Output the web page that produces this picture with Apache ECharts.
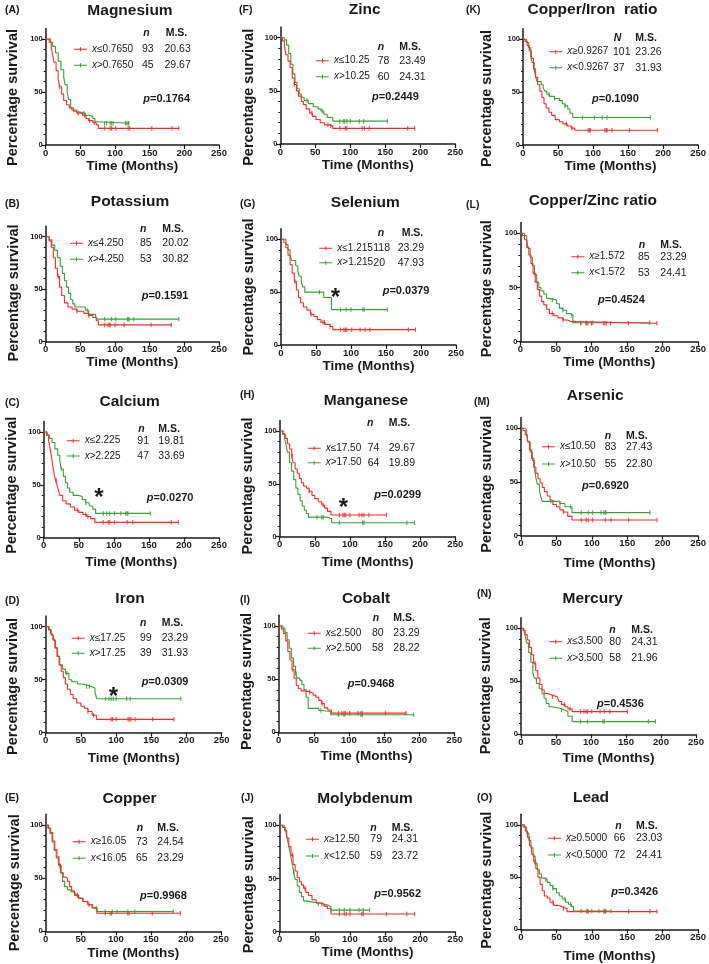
<!DOCTYPE html>
<html><head><meta charset="utf-8">
<script src="https://cdn.jsdelivr.net/npm/echarts@6/dist/echarts.min.js"></script>
<style>html,body{margin:0;padding:0;background:#fff}#c{width:709px;height:964px}</style>
</head><body><div id="c"></div>
<script>
// ---------- data ----------
const titles = ['Magnesium','Potassium','Calcium','Iron','Copper','Zinc','Selenium','Manganese','Cobalt','Molybdenum','Copper/Iron  ratio','Copper/Zinc ratio','Arsenic','Mercury','Lead'];
const letters = ['(A)','(B)','(C)','(D)','(E)','(F)','(G)','(H)','(I)','(J)','(K)','(L)','(M)','(N)','(O)'];
const redLabels = ['≤0.7650','≤4.250','≤2.225','≤17.25','≥16.05','≤10.25','≤1.215','≤17.50','≤2.500','≥12.50','≥0.9267','≥1.572','≤10.50','≤3.500','≥0.5000'];
const greenLabels = ['>0.7650','>4.250','>2.225','>17.25','<16.05','>10.25','>1.215','>17.50','>2.500','<12.50','<0.9267','<1.572','>10.50','>3.500','<0.5000'];
const redN = [93,85,91,99,73,78,118,74,80,79,101,85,83,80,66];
const greenN = [45,53,47,39,65,60,20,64,58,59,37,53,55,58,72];
const redMS = ['20.63','20.02','19.81','23.29','24.54','23.49','23.29','29.67','23.29','24.31','23.26','23.29','27.43','24.31','23.03'];
const greenMS = ['29.67','30.82','33.69','31.93','23.29','24.31','47.93','19.89','28.22','23.72','31.93','24.41','22.80','21.96','24.41'];
const pValues = ['0.1764','0.1591','0.0270','0.0309','0.9968','0.2449','0.0379','0.0299','0.9468','0.9562','0.1090','0.4524','0.6920','0.4536','0.3426'];
const nHeaders = ['n','n','n','n','n','n','n','n','n','n','N','n','n','n','n'];
const xTicks = [0,50,100,150,200,250];
const yTicks = [0,50,100];
const yMinorTicks = [10,20,30,40,60,70,80,90];

const mgRed = [[0,100],[5,97],[8,92],[10,85],[12,78],[15,70],[18,62],[20,55],[23,48],[26,42],[30,38],[34,35],[40,32],[45,30],[53,28],[58,25],[62,23],[68,21],[73,19],[76,15.7],[192,15.7]];
const mgGreen = [[0,100],[7,97],[10,93],[14,87],[18,79],[22,71],[26,64],[28,57],[31,50],[33,43],[36,36],[38,33],[45,31],[50,30],[57,28],[62,27],[68,25],[71,22],[74,20.5],[120,20.5]];
const mgRedCens = [20,47,56,63,70,85,93,95,101,119,121,153,182,192];
const mgGreenCens = [55,85,88,93,95,97,115,117,119,120];

const kRed = [[0,100],[5,96],[8,90],[11,80],[14,70],[17,62],[20,52],[23,44],[27,37],[32,33],[38,31],[45,29],[55,27],[62,25],[68,23],[73,20],[76,16],[182,16]];
const kGreen = [[0,100],[5,97],[9,92],[13,87],[17,80],[21,72],[24,65],[27,58],[30,52],[33,46],[36,40],[39,36],[42,33],[53,33],[57,30],[62,26],[72,24],[74,21.5],[192,21.5]];
const kRedCens = [18,45,62,85,90,92,93,100,113,152,181];
const kGreenCens = [60,85,95,101,118,119,120,127,192];

const caRed = [[0,100],[4,97],[7,92],[9,85],[11,77],[13,68],[15,60],[17,54],[19,50],[21,45],[23,40],[27,35],[32,32],[38,29],[44,26],[50,24],[56,22],[61,20],[67,18],[73,14.5],[192,14.5]];
const caGreen = [[0,100],[5,97],[8,94],[12,90],[16,84],[20,78],[23,72],[25,65],[28,58],[31,52],[34,47],[37,43],[42,40],[50,39],[55,36],[60,33],[65,30],[70,27],[74,23],[152,23]];
const caRedCens = [18,48,60,63,85,92,94,101,119,127,182,192];
const caGreenCens = [25,60,85,90,94,101,110,117,119,120,152];

const feRed = [[0,100],[4,97],[7,93],[10,88],[13,80],[16,72],[19,64],[22,58],[25,52],[28,46],[31,41],[35,36],[39,32],[44,28],[50,25],[55,23],[60,20],[66,16.5],[72,12.6],[182,12.6]];
const feGreen = [[0,100],[5,97],[8,92],[11,87],[14,80],[17,72],[20,64],[24,60],[28,56],[33,50],[37,48],[45,46],[52,45],[58,43.5],[65,42],[70,38.5],[72.5,32],[192,32]];
const feRedCens = [60,68,93,95,100,117,119,121,127,152,182];
const feGreenCens = [30,58,62,85,90,93,96,100,115,120,192];

const cuRed = [[0,100],[4,97],[7,93],[10,85],[13,77],[16,70],[19,62],[22,55],[25,51],[28,50],[31,47],[34,42],[37,38],[41,34],[47,31],[53,28],[60,25],[67,22],[73,17],[192,17]];
const cuGreen = [[0,100],[3,97],[6,92],[9,84],[12,76],[15,69],[18,63],[21,55],[24,47],[27,42],[31,39],[36,37],[42,34],[47,31],[53,28],[60,25],[66,22],[73,18.5],[182,18.5]];
const cuRedCens = [20,45,62,85,92,94,117,119,152,192];
const cuGreenCens = [45,72,85,95,102,117,127,182];

const znRed = [[0,100],[3,97],[6,92],[8,84],[11,78],[14,72],[17,62],[20,56],[23,50],[26,45],[30,40],[33,37],[37,33],[42,29],[46,26],[51,23],[57,20],[63,18],[70,17],[75,14.7],[192,14.7]];
const znGreen = [[0,100],[6,98],[9,93],[12,85],[15,75],[18,66],[21,58],[24,52],[27,47],[30,44],[34,41],[40,38],[47,35],[54,33],[58,31],[62,28],[67,25],[75,21.5],[153,21.5]];
const znRedCens = [20,45,68,72,85,93,95,117,120,127,182,192];
const znGreenCens = [38,60,85,90,92,95,100,113,119,153];

const seRed = [[0,100],[4,97],[7,92],[10,85],[13,76],[16,68],[19,60],[22,52],[25,45],[28,40],[32,36],[37,33],[42,29],[47,27],[52,24],[57,21.5],[63,19.5],[70,17.5],[74,14.5],[192,14.5]];
const seGreen = [[0,100],[7,95],[10,90],[13,85],[15,80],[21,75],[24,70],[26,65],[29,60],[31,55],[34,50],[61,45],[72,33.5],[152,33.5]];
const seRedCens = [20,43,60,62,70,85,90,92,94,101,113,120,127,182,192];
const seGreenCens = [55,85,93,100,117,119,152];

const mnRed = [[0,100],[5,97],[8,93],[11,88],[14,83],[17,76],[19,70],[22,64],[25,60],[28,55],[31,51],[34,48],[38,46],[42,43],[46,39],[50,36],[55,33],[60,30],[64,27],[68,24],[73,20.5],[152,20.5]];
const mnGreen = [[0,100],[4,97],[7,93],[9,87],[11,80],[14,70],[17,62],[20,54],[23,46],[26,40],[29,34],[32,29],[35,25],[38,22],[41,18.5],[68,17],[74,13.2],[192,13.2]];
const mnRedCens = [18,42,62,85,90,92,94,100,113,117,120,127,152];
const mnGreenCens = [53,60,62,85,118,120,181,192];

const coRed = [[0,100],[4,97],[7,93],[10,86],[13,76],[16,68],[19,59],[22,51],[25,44],[28,41],[32,39],[37,38],[45,37],[49,35],[53,33],[57,30],[61,27],[65,23],[70,21],[75,18],[182,18]];
const coGreen = [[0,100],[6,98],[9,94],[12,87],[15,79],[18,70],[21,62],[24,55],[26,51],[30,49],[33,45],[36,40],[39,33],[42,22.5],[57,20.5],[61,19.5],[74,16.5],[192,16.5]];
const coRedCens = [20,44,62,85,90,93,95,101,113,117,119,152,181];
const coGreenCens = [25,60,85,93,117,119,192];

const moRed = [[0,100],[4,98],[7,95],[10,88],[13,80],[16,72],[19,63],[22,57],[25,51],[28,47],[31,44],[34,41],[37,37],[41,34],[46,30],[52,27],[58,26],[63,24],[68,21.5],[73,16.6],[192,16.6]];
const moGreen = [[0,100],[5,98],[8,96],[10,90],[12,83],[14,77],[16,70],[18,63],[20,56],[22,49],[25,43],[28,37],[31,33],[34,29],[38,28],[45,27],[55,26],[62,25],[68,23.5],[73,20.3],[128,20.3]];
const moRedCens = [18,36,60,85,92,95,100,117,119,152,181,192];
const moGreenCens = [7,20,55,73,85,92,100,113,119,128];

const cfRed = [[0,100],[3,98],[6,94],[9,89],[12,82],[15,72],[18,64],[21,57],[24,51],[27,45],[30,39],[33,35],[37,31],[41,28],[46,24],[52,22],[57,20],[63,18],[69,16],[74,14],[192,14]];
const cfGreen = [[0,100],[5,97],[8,92],[11,84],[13,78],[16,71],[18,65],[20,60],[26,57],[29,54],[31,51],[34,48],[38,46],[45,44],[52,42],[56,39],[60,37],[64,34],[67,30],[71,26],[182,26]];
const cfRedCens = [62,70,93,95,96,117,119,120,127,152,192];
const cfGreenCens = [37,45,60,85,102,113,120,182];

const czRed = [[0,100],[3,98],[6,94],[9,87],[12,80],[15,72],[18,63],[21,55],[24,48],[27,42],[30,37],[33,34],[37,30],[41,26],[47,24],[53,22],[60,20],[66,18.5],[72,17],[192,17]];
const czGreen = [[0,100],[6,98],[9,94],[11,86],[14,78],[17,70],[20,62],[23,55],[26,50],[29,47],[33,44],[37,40],[40,38.5],[51,35],[55,31],[60,29],[65,26],[70,24.5],[74,17.5],[182,17.5]];
const czRedCens = [20,45,60,85,93,95,100,117,119,121,127,152,192];
const czGreenCens = [45,60,72,85,92,102,182];

const asRed = [[0,100],[3,98],[6,94],[9,88],[12,80],[15,72],[18,64],[21,58],[24,53],[27,49],[30,45],[33,41],[37,37],[41,33],[45,29],[50,27],[55,24],[60,22],[66,18],[72,14.6],[192,14.6]];
const asGreen = [[0,100],[5,99],[8,93],[10,87],[13,78],[16,70],[19,62],[21,54],[23,48],[26,42],[28,36],[30,32],[55,30],[62,27],[72,21.5],[182,21.5]];
const asRedCens = [60,85,92,95,101,119,127,152,192];
const asGreenCens = [42,55,70,85,95,101,113,117,119,120,182];

const hgRed = [[0,100],[3,98],[6,94],[9,89],[12,82],[15,75],[18,67],[21,60],[24,53],[27,47],[30,42],[33,38.5],[38,37],[44,35.5],[52,34],[54,31],[58,28],[63,26],[67,24],[73,21.4],[152,21.4]];
const hgGreen = [[0,100],[4,98],[6,93],[8,86],[11,77],[14,68],[17,58],[19,53],[22,48],[26,43],[30,38],[33,34],[36,29],[40,26],[44,24.5],[55,23],[62,21.5],[67,17],[73,12],[192,12]];
const hgRedCens = [20,45,62,70,85,90,93,95,101,113,119,127,152];
const hgGreenCens = [58,85,95,117,119,182,192];

const pbRed = [[0,100],[3,98],[6,94],[9,88],[12,80],[15,72],[18,65],[21,58],[24,50],[27,43],[30,37],[33,32],[37,30],[41,26],[46,23],[52,22],[57,21],[60,20],[65,17],[192,17]];
const pbGreen = [[0,100],[5,98],[8,92],[11,85],[14,78],[17,70],[20,63],[23,57],[26,53],[29,49],[33,48],[37,45],[41,42],[45,39],[50,35],[54,32],[58,29],[63,26],[67,24],[71,22],[74,17.5],[127,17.5]];
const pbRedCens = [20,45,60,93,95,117,119,152,182,192];
const pbGreenCens = [20,35,45,62,70,85,93,100,110,117,120,127];

const redCurves = [mgRed,kRed,caRed,feRed,cuRed,znRed,seRed,mnRed,coRed,moRed,cfRed,czRed,asRed,hgRed,pbRed];
const greenCurves = [mgGreen,kGreen,caGreen,feGreen,cuGreen,znGreen,seGreen,mnGreen,coGreen,moGreen,cfGreen,czGreen,asGreen,hgGreen,pbGreen];
const redCens = [mgRedCens,kRedCens,caRedCens,feRedCens,cuRedCens,znRedCens,seRedCens,mnRedCens,coRedCens,moRedCens,cfRedCens,czRedCens,asRedCens,hgRedCens,pbRedCens];
const greenCens = [mgGreenCens,kGreenCens,caGreenCens,feGreenCens,cuGreenCens,znGreenCens,seGreenCens,mnGreenCens,coGreenCens,moGreenCens,cfGreenCens,czGreenCens,asGreenCens,hgGreenCens,pbGreenCens];

// ---------- layout (pixels) ----------
const LAY = [
 {x0:45.7,x1:219,y1:39,y0:145, tx:130,ty:10.5, lx:5,ly:10, gx:74,gy:49.3,gap:16, nx:142,mx:164.5, hnx:143.3,hmx:165.7,hy:33.3, px:143.3,py:98.7, xg:13.7,yg:24.9,ys:10.8},
 {x0:45.7,x1:219,y1:236.7,y0:341.7, tx:130,ty:202, lx:5,ly:204, gx:70,gy:243.3,gap:16, nx:140,mx:162.3, hnx:140,hmx:162.3,hy:229.3, px:141.7,py:296, xg:10.6,yg:24.2,ys:9},
 {x0:43.7,x1:219,y1:432,y0:537.7, tx:129.7,ty:402, lx:5,ly:402.7, gx:66.7,gy:440.7,gap:15.3, nx:137.3,mx:158.3, hnx:138.3,hmx:158.3,hy:429.3, px:146.7,py:498.3, xg:18,yg:24.5,ys:5.6, star:[99,491.7]},
 {x0:45.7,x1:221.7,y1:626.7,y0:732.7, tx:130,ty:598.5, lx:5,ly:601, gx:71.7,gy:638.3,gap:15, nx:140,mx:161.7, hnx:140,hmx:161.7,hy:623.3, px:141.7,py:681.7, xg:18.6,yg:24.9,ys:12, star:[113.3,690.7]},
 {x0:45.7,x1:221,y1:825,y0:931.3, tx:129.5,ty:798.5, lx:5,ly:798, gx:72.7,gy:841.7,gap:16.6, nx:136,mx:157.3, hnx:136.7,hmx:157.3,hy:828.3, px:140,py:895.7, xg:15,yg:23.2,ys:10},
 {x0:280.3,x1:455.3,y1:37.7,y0:144, tx:364.7,ty:9.5, lx:239,ly:10, gx:316,gy:60.7,gap:16, nx:377.7,mx:399.3, hnx:377.7,hmx:399.3,hy:46.7, px:372,py:97.3, xg:14.7,yg:23.5,ys:11.8},
 {x0:281,x1:456,y1:239.3,y0:345, tx:365.3,ty:202.5, lx:240,ly:204, gx:319.3,gy:248.3,gap:14.4, nx:373.3,mx:397.7, hnx:377.7,hmx:401.7,hy:233.3, px:382.7,py:290.7, xg:11.3,yg:24.8,ys:0, star:[335.3,291.7]},
 {x0:279.7,x1:455.3,y1:431,y0:536.7, tx:366,ty:400.5, lx:240,ly:395, gx:307.7,gy:448.3,gap:14.4, nx:367.7,mx:388.7, hnx:367,hmx:388.7,hy:423.3, px:374.3,py:495, xg:19,yg:24.5,ys:7.4, star:[343.3,501.7]},
 {x0:278.7,x1:454.3,y1:626,y0:732.3, tx:366,ty:598.5, lx:240,ly:600, gx:307.7,gy:633.3,gap:15, nx:372,mx:393.3, hnx:372.7,hmx:393.3,hy:618.3, px:347.7,py:684, xg:17.3,yg:24.5,ys:7.7},
 {x0:279.7,x1:455.3,y1:825.3,y0:931.7, tx:365,ty:798.5, lx:241,ly:798, gx:306,gy:839.3,gap:16.7, nx:370.3,mx:391.7, hnx:370.3,hmx:391.7,hy:827.7, px:374.3,py:894, xg:14,yg:23.5,ys:11.6},
 {x0:523,x1:698.7,y1:39.3,y0:145, tx:592.5,ty:9.5, lx:466,ly:10, gx:549.3,gy:51.7,gap:16, nx:613,mx:635.3, hnx:613.7,hmx:635.3,hy:38.3, px:592,py:98.7, xg:13,yg:28.5,ys:11.6},
 {x0:520.3,x1:699.7,y1:233.3,y0:341.7, tx:592.8,ty:200.5, lx:466,ly:205, gx:571.3,gy:256.7,gap:16, nx:638,mx:660.3, hnx:638.7,hmx:660.3,hy:245, px:598,py:300, xg:8,yg:25.8,ys:6.6},
 {x0:521,x1:698.7,y1:428.3,y0:535.7, tx:595.3,ty:395.5, lx:474,ly:401.7, gx:542,gy:446.7,gap:17.3, nx:604.7,mx:626, hnx:604.7,hmx:626,hy:436, px:582,py:486, xg:20.6,yg:26.5,ys:7.6},
 {x0:521,x1:696,y1:628.3,y0:734.3, tx:592.7,ty:598.5, lx:477,ly:594, gx:549.3,gy:641.7,gap:16.6, nx:609.3,mx:631.3, hnx:609.3,hmx:631.3,hy:630, px:597,py:704, xg:17,yg:27.5,ys:9.8},
 {x0:521,x1:698.7,y1:825,y0:931.7, tx:591,ty:797.5, lx:477,ly:798, gx:548,gy:838.3,gap:16.7, nx:613.7,mx:636, hnx:615.3,hmx:636,hy:826, px:611.3,py:891.7, xg:19.6,yg:26.5,ys:8.3}
];

const FONT = "'Liberation Sans', Arial, Helvetica, sans-serif";
const INK = '#1a1a1a';
const RED = '#ff2a2a';
const GREEN = '#36a136';
const ICON = 'path://M0,1.5H13V2.5H0Z M6,0H7V4H6Z';

const sAt = (c, t) => { let s = c[0][1]; for (const p of c) { if (p[0] <= t) s = p[1]; } return s; };

const grids = [], xAxes = [], yAxes = [], series = [], legends = [], graphics = [];
LAY.forEach((g, i) => {
  const h = 1.1 * (g.y0 - g.y1);
  grids.push({left: g.x0, top: g.y0 - h, width: g.x1 - g.x0, height: h, containLabel: false});
  xAxes.push({
    gridIndex: i, type: 'value', min: 0, max: 250, interval: 50,
    name: 'Time (Months)', nameLocation: 'middle', nameGap: g.xg,
    nameTextStyle: {fontFamily: FONT, fontSize: 13.5, fontWeight: 'bold', color: INK},
    axisLine: {lineStyle: {color: INK, width: 1.5}},
    axisTick: {length: 4, lineStyle: {color: INK, width: 1.2}, customValues: xTicks},
    axisLabel: {fontFamily: FONT, fontSize: 9.5, fontWeight: 'bold', color: INK, margin: 3, customValues: xTicks},
    splitLine: {show: false}
  });
  yAxes.push({
    gridIndex: i, type: 'value', min: 0, max: 110, interval: 50, position: 'left', offset: 0,
    name: 'Percentage survival', nameLocation: 'middle', nameRotate: 90, nameGap: g.yg,
    nameTextStyle: {fontFamily: FONT, fontSize: 14.5, fontWeight: 'bold', color: INK, padding: [0, 2 * g.ys, 0, 0]},
    axisLine: {show: true, lineStyle: {color: INK, width: 1.5}},
    axisTick: {show: true, length: 4, lineStyle: {color: INK, width: 1.2}, customValues: yTicks},
    axisLabel: {fontFamily: FONT, fontSize: 7.5, fontWeight: 'bold', color: INK, margin: 3, customValues: yTicks},
    splitLine: {show: false}
  });
  yAxes.push({
    gridIndex: i, type: 'value', min: 0, max: 110, interval: 10, position: 'left', offset: 0,
    axisLine: {show: false},
    axisTick: {show: true, length: 2, lineStyle: {color: INK, width: 1}, customValues: yMinorTicks},
    axisLabel: {show: false},
    splitLine: {show: false}
  });
  const rName = 'x' + redLabels[i], gName = 'x' + greenLabels[i];
  series.push({name: rName, type: 'line', xAxisIndex: i, yAxisIndex: 2 * i, step: 'end', symbol: 'none',
    color: RED, lineStyle: {width: 1.1, color: RED}, data: redCurves[i], z: 3});
  series.push({name: gName, type: 'line', xAxisIndex: i, yAxisIndex: 2 * i, step: 'end', symbol: 'none',
    color: GREEN, lineStyle: {width: 1.1, color: GREEN}, data: greenCurves[i], z: 2});
  series.push({type: 'scatter', xAxisIndex: i, yAxisIndex: 2 * i, symbol: 'rect', symbolSize: [1.2, 4.5],
    color: RED, data: redCens[i].map(t => [t, sAt(redCurves[i], t)]), z: 4});
  series.push({type: 'scatter', xAxisIndex: i, yAxisIndex: 2 * i, symbol: 'rect', symbolSize: [1.2, 4.5],
    color: GREEN, data: greenCens[i].map(t => [t, sAt(greenCurves[i], t)]), z: 4});

  const labW = g.nx - g.gx - 18;
  const base = {fontFamily: FONT, fontSize: 10, color: INK, lineHeight: 12};
  const numBase = {fontFamily: FONT, fontSize: 10.5, color: INK, lineHeight: 12};
  legends.push({
    data: [rName, gName], orient: 'vertical', left: g.gx, top: g.gy - 6, padding: 0,
    itemGap: g.gap - 12, itemWidth: 13, itemHeight: 4, icon: ICON, selectedMode: false,
    formatter: name => {
      const isR = name === rName;
      return '{i|x}{r|' + (isR ? redLabels[i] : greenLabels[i]) + '}{n|' + (isR ? redN[i] : greenN[i]) + '}{m|' + (isR ? redMS[i] : greenMS[i]) + '}';
    },
    textStyle: Object.assign({}, base, {rich: {
      i: Object.assign({}, base, {fontStyle: 'italic', width: 5}),
      r: Object.assign({}, base, {width: labW - 5}),
      n: Object.assign({}, numBase, {width: g.mx - g.nx}),
      m: Object.assign({}, numBase)
    }})
  });

  graphics.push({type: 'text', x: g.tx, y: g.ty, silent: true, style: {
    text: titles[i], fontFamily: FONT, fontSize: 15.5, fontWeight: 'bold', fill: INK, align: 'center', verticalAlign: 'middle'}});
  graphics.push({type: 'text', x: g.lx, y: g.ly, silent: true, style: {
    text: letters[i], fontFamily: FONT, fontSize: 10.5, fontWeight: 'bold', fill: INK, align: 'left', verticalAlign: 'middle'}});
  graphics.push({type: 'text', x: g.hnx, y: g.hy, silent: true, style: {
    text: '{a|' + nHeaders[i] + '}{b|M.S.}', fill: INK, align: 'left', verticalAlign: 'middle',
    rich: {a: {fontFamily: FONT, fontSize: 10.5, fontWeight: 'bold', fontStyle: 'italic', fill: INK, width: g.hmx - g.hnx},
           b: {fontFamily: FONT, fontSize: 10.5, fontWeight: 'bold', fill: INK}}}});
  graphics.push({type: 'text', x: g.px, y: g.py, silent: true, style: {
    text: '{a|p}{b|=' + pValues[i] + '}', fill: INK, align: 'left', verticalAlign: 'middle',
    rich: {a: {fontFamily: FONT, fontSize: 11, fontWeight: 'bold', fontStyle: 'italic', fill: INK},
           b: {fontFamily: FONT, fontSize: 11, fontWeight: 'bold', fill: INK}}}});
  if (g.star) {
    graphics.push({type: 'text', x: g.star[0], y: g.star[1] + 7, silent: true, style: {
      text: '*', fontFamily: FONT, fontSize: 24, fontWeight: 'bold', fill: INK, align: 'center', verticalAlign: 'middle'}});
  }
});

const chart = echarts.init(document.getElementById('c'), null, {renderer: 'canvas'});
chart.setOption({
  backgroundColor: '#ffffff',
  animation: false,
  grid: grids, xAxis: xAxes, yAxis: yAxes, series: series, legend: legends,
  graphic: {elements: graphics}
});
</script></body></html>
